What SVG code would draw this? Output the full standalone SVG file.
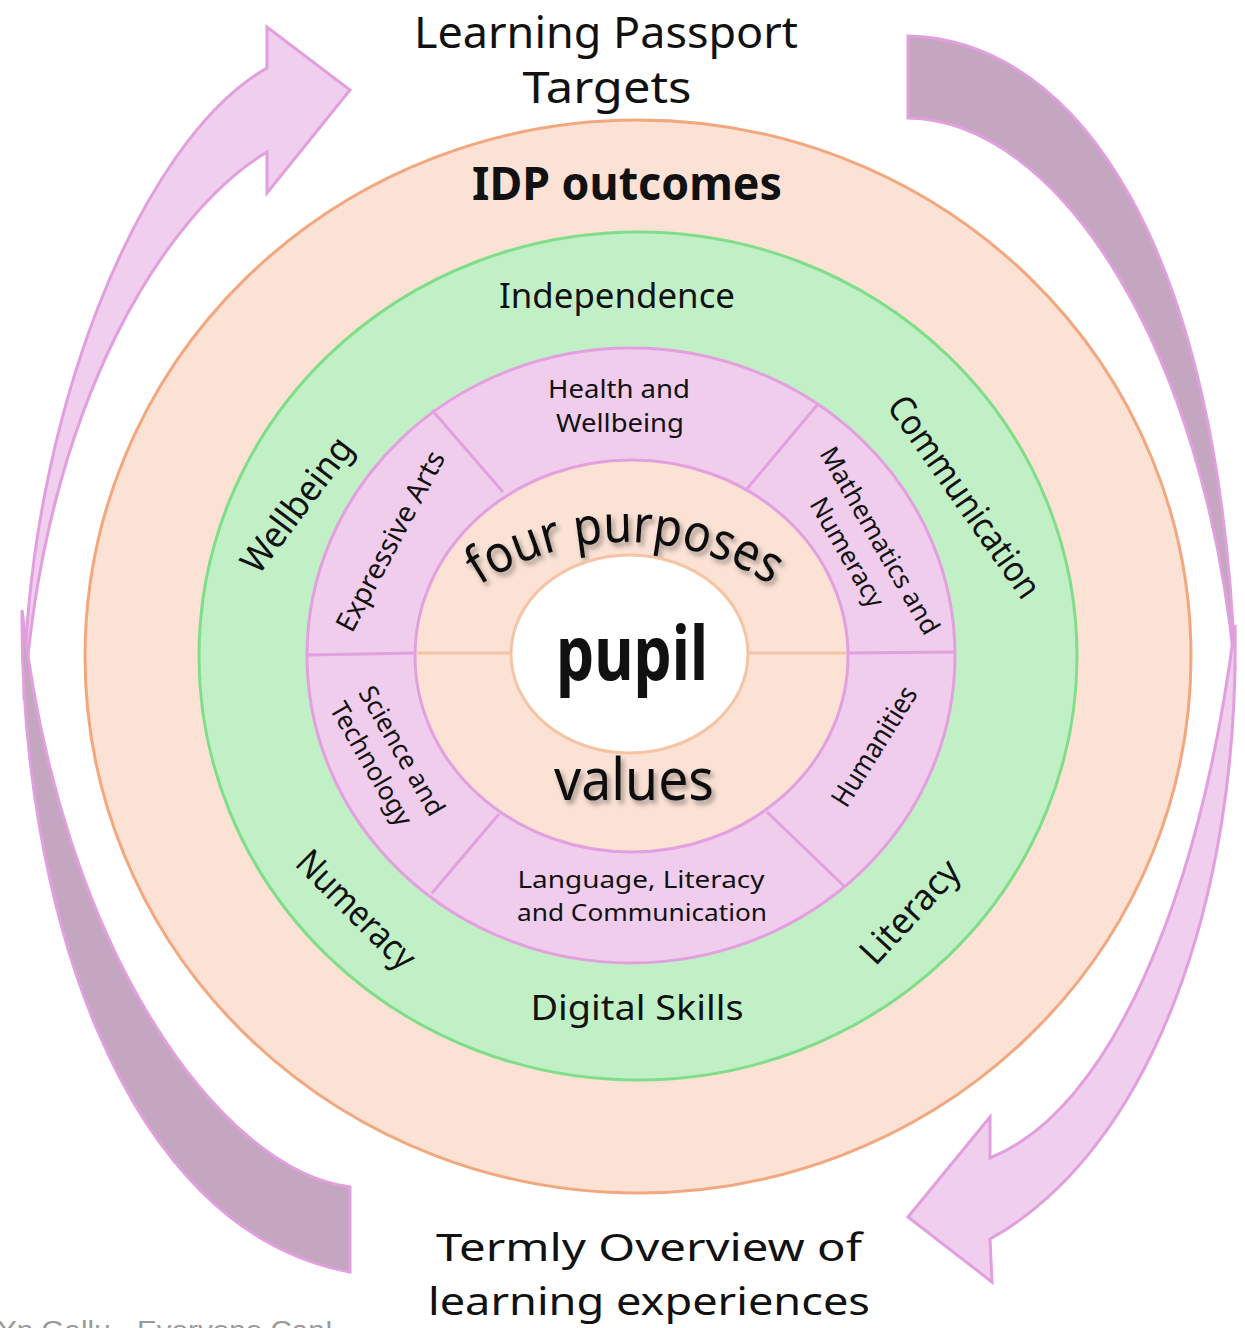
<svg xmlns="http://www.w3.org/2000/svg" width="1245" height="1328" viewBox="0 0 1245 1328">
<style>
.t{font-family:"Comic Sans MS","Noto Sans",sans-serif;fill:#111;}
.c{text-anchor:middle;}
.b{font-weight:bold;}
.arr-light{fill:#F0CEEE;stroke:#E29FDD;stroke-width:3;stroke-linejoin:miter;}
.arr-dark{fill:#C4A6C0;stroke:#E29FDD;stroke-width:3;}
.div-pink{stroke:#E3A0DE;stroke-width:3;}
.div-peach{stroke:#F5C4A5;stroke-width:3;}
</style>
<defs>
<filter id="shadow" x="-20%" y="-20%" width="140%" height="160%">
<feDropShadow dx="3" dy="4" stdDeviation="2.5" flood-color="#000" flood-opacity="0.35"/>
</filter>
<path id="arcFP" d="M 359 808 A 266 266 0 0 1 891 808"/>
</defs>
<rect width="1245" height="1328" fill="#fff"/>

<g id="connectors">
<path id="arrow-top-left" class="arr-light" d="M 24 700 C 26 420 140 140 267 68 L 267 27 L 350 90 L 267 193 L 267 152 C 167 212 45 400 24 700 Z"/>
<path id="arrow-bottom-left" class="arr-dark" d="M 22 610 C 20 900 120 1230 350 1272 L 350 1187 C 220 1170 60 950 22 610 Z"/>
<path id="arrow-top-right" class="arr-dark" d="M 908 36 C 1080 40 1220 250 1235 670 C 1205 350 1060 120 908 118 Z"/>
<path id="arrow-bottom-right" class="arr-light" d="M 1235 625 C 1240 900 1150 1150 990 1239 L 992 1282 L 908 1217 L 990 1117 L 990 1158 C 1110 1110 1200 900 1235 625 Z"/>
</g>

<g id="title-top">
<text class="t c" x="606" y="48" font-size="44" textLength="384" lengthAdjust="spacingAndGlyphs">Learning Passport</text>
<text class="t c" x="607" y="103" font-size="44" textLength="169" lengthAdjust="spacingAndGlyphs">Targets</text>
</g>

<g id="outer-ring">
<ellipse cx="638" cy="656.5" rx="553" ry="536.5" fill="#FBE2D5" stroke="#F2A77E" stroke-width="3"/>
<text class="t c b" x="627" y="200" font-size="46" textLength="310" lengthAdjust="spacingAndGlyphs">IDP outcomes</text>
</g>

<g id="green-ring">
<ellipse cx="638" cy="656" rx="439" ry="424" fill="#C1F0C6" stroke="#80DD89" stroke-width="3"/>
<text class="t c" x="617" y="308" font-size="35" textLength="236" lengthAdjust="spacingAndGlyphs">Independence</text>
<text class="t c" x="637" y="1020" font-size="35" textLength="213" lengthAdjust="spacingAndGlyphs">Digital Skills</text>
<text class="t c" font-size="36" transform="translate(297,505) rotate(-53)" y="12" textLength="160" lengthAdjust="spacingAndGlyphs">Wellbeing</text>
<text class="t c" font-size="36" transform="translate(964,497) rotate(55)" y="12" textLength="238" lengthAdjust="spacingAndGlyphs">Communication</text>
<text class="t c" font-size="36" transform="translate(356,910) rotate(45)" y="12" textLength="152" lengthAdjust="spacingAndGlyphs">Numeracy</text>
<text class="t c" font-size="36" transform="translate(910,912) rotate(-47)" y="12" textLength="128" lengthAdjust="spacingAndGlyphs">Literacy</text>
</g>

<g id="pink-ring">
<ellipse cx="631" cy="655.5" rx="324" ry="307.5" fill="#F0CDED" stroke="#E3A0DE" stroke-width="3"/>
<line class="div-pink" x1="432" y1="410" x2="503" y2="492"/>
<line class="div-pink" x1="818" y1="404" x2="746" y2="490"/>
<line class="div-pink" x1="432" y1="893" x2="499" y2="814"/>
<line class="div-pink" x1="845" y1="887" x2="767" y2="812"/>
<line class="div-pink" x1="307" y1="655" x2="416" y2="653"/>
<line class="div-pink" x1="847" y1="653" x2="955" y2="652"/>
<text class="t c" x="619" y="398" font-size="26" textLength="142" lengthAdjust="spacingAndGlyphs">Health and</text>
<text class="t c" x="620" y="432" font-size="26" textLength="128" lengthAdjust="spacingAndGlyphs">Wellbeing</text>
<text class="t c" x="641" y="888" font-size="24" textLength="247" lengthAdjust="spacingAndGlyphs">Language, Literacy</text>
<text class="t c" x="642" y="921" font-size="24" textLength="250" lengthAdjust="spacingAndGlyphs">and Communication</text>
<text class="t c" font-size="28" transform="translate(390,541) rotate(-62)" y="10" textLength="200" lengthAdjust="spacingAndGlyphs">Expressive Arts</text>
<text class="t c" font-size="28" transform="translate(874,746) rotate(-58)" y="10" textLength="136" lengthAdjust="spacingAndGlyphs">Humanities</text>
<g transform="translate(865,549) rotate(60)">
<text class="t c" font-size="26" x="0" y="-8" textLength="212" lengthAdjust="spacingAndGlyphs">Mathematics and</text>
<text class="t c" font-size="26" x="-6" y="26" textLength="122" lengthAdjust="spacingAndGlyphs">Numeracy</text>
</g>
<g transform="translate(387,757) rotate(60)">
<text class="t c" font-size="26" x="2" y="-7" textLength="145" lengthAdjust="spacingAndGlyphs">Science and</text>
<text class="t c" font-size="26" x="-2" y="26" textLength="138" lengthAdjust="spacingAndGlyphs">Technology</text>
</g>
</g>

<g id="inner-ring">
<ellipse cx="631.5" cy="656" rx="216.5" ry="196" fill="#FBE2D5" stroke="#E3A0DE" stroke-width="3"/>
<line class="div-peach" x1="417" y1="653" x2="512" y2="653"/>
<line class="div-peach" x1="747" y1="653" x2="846" y2="653"/>
<text class="t" font-size="52" filter="url(#shadow)"><textPath href="#arcFP" startOffset="50%" text-anchor="middle" textLength="308" lengthAdjust="spacingAndGlyphs">four purposes</textPath></text>
<text class="t c" x="634" y="800" font-size="58" filter="url(#shadow)" textLength="160" lengthAdjust="spacingAndGlyphs">values</text>
</g>

<g id="pupil">
<ellipse cx="629.5" cy="654" rx="118.5" ry="99" fill="#fff" stroke="#F5C4A5" stroke-width="3"/>
<text class="t c b" x="632" y="680" font-size="76" textLength="152" lengthAdjust="spacingAndGlyphs">pupil</text>
</g>

<g id="title-bottom">
<text class="t c" x="649" y="1261" font-size="39" textLength="426" lengthAdjust="spacingAndGlyphs">Termly Overview of</text>
<text class="t c" x="649" y="1315" font-size="39" textLength="442" lengthAdjust="spacingAndGlyphs">learning experiences</text>
</g>

<text x="-3" y="1339" font-family="'Liberation Sans',Arial,sans-serif" font-size="26" fill="#999" textLength="336" lengthAdjust="spacingAndGlyphs">Yn Gallu - Everyone Can!</text>
</svg>
